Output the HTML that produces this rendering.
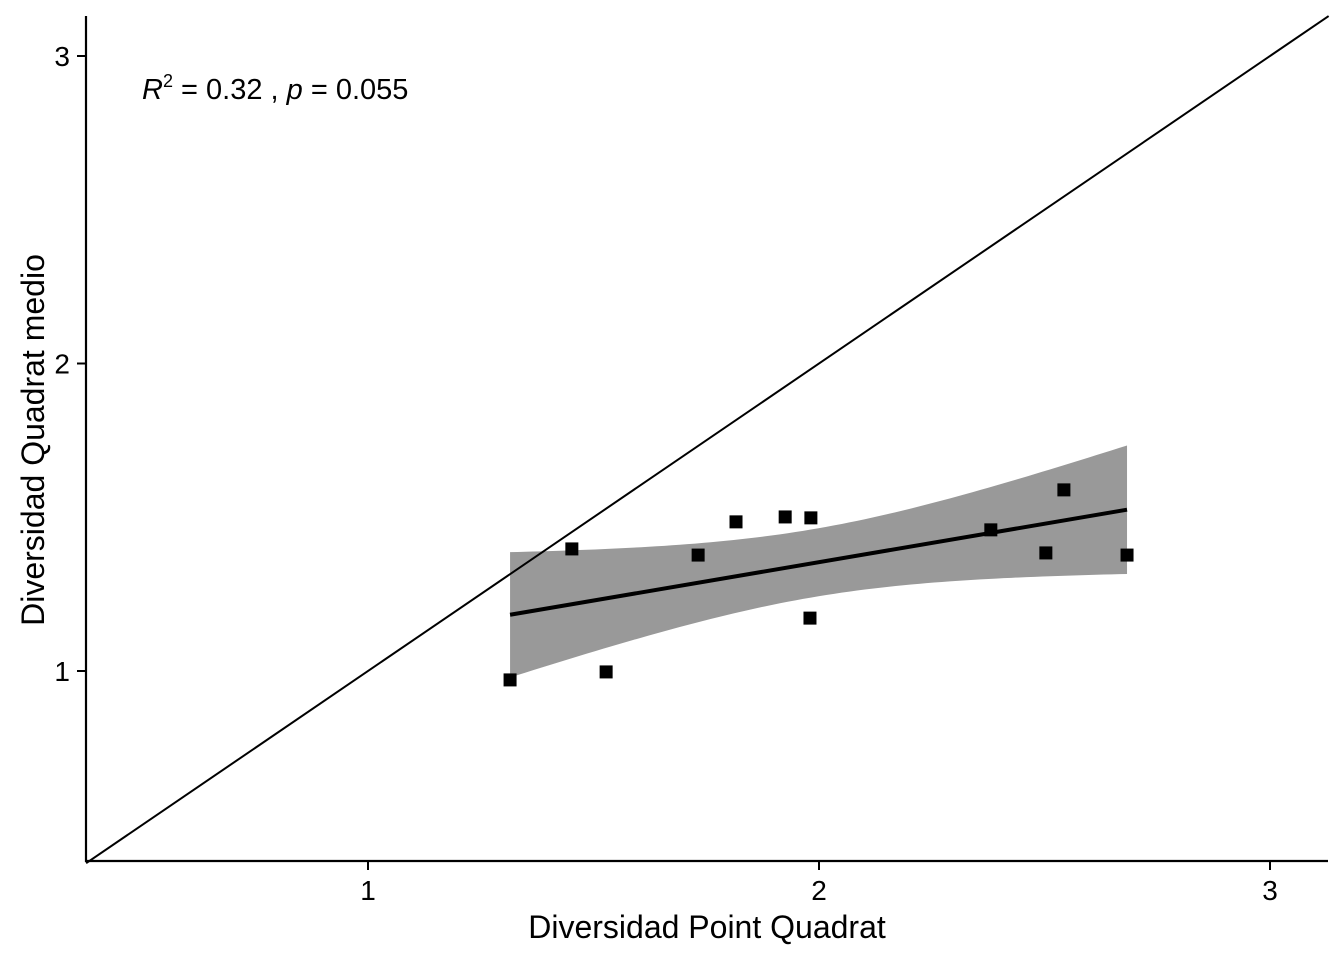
<!DOCTYPE html>
<html><head><meta charset="utf-8"><style>
body{margin:0;background:#fff}
svg text{font-family:"Liberation Sans",Arial,sans-serif;fill:#000}
</style></head><body>
<svg id="chart" width="1344" height="960" xmlns="http://www.w3.org/2000/svg">
<g id="band"></g>
<g id="marks"></g>
<line x1="86" y1="16" x2="86" y2="862" stroke="#000" stroke-width="2.2"/>
<line x1="85" y1="861" x2="1328" y2="861" stroke="#000" stroke-width="2.2"/>
<g id="ticks"></g>
<text x="142" y="99" font-size="29"><tspan font-style="italic">R</tspan><tspan font-size="18" dy="-12">2</tspan><tspan dy="12"> = 0.32 , </tspan><tspan font-style="italic">p</tspan><tspan> = 0.055</tspan></text>
<text x="707" y="938" font-size="32" text-anchor="middle">Diversidad Point Quadrat</text>
<text transform="translate(44,440) rotate(-90)" font-size="32" text-anchor="middle">Diversidad Quadrat medio</text>
</svg>
<script>
const xVals=[1.315,1.452,1.528,1.732,1.816,1.925,1.982,1.980,2.381,2.503,2.543,2.683];
const yVals=[0.971,1.397,0.997,1.377,1.485,1.501,1.498,1.172,1.459,1.384,1.589,1.377];
const xTicks=[1,2,3];
const yTicks=[1,2,3];
const X=v=>368+(v-1)*451;
const Y=v=>671-(v-1)*307.5;
const NS="http://www.w3.org/2000/svg";
function mk(t,a,p){const e=document.createElementNS(NS,t);for(const k in a)e.setAttribute(k,a[k]);p.appendChild(e);return e;}
const marks=document.getElementById('marks'),band=document.getElementById('band'),ticks=document.getElementById('ticks');
const x0=0.375,x1=3.13;
let idl=mk('line',{x1:X(x0),y1:Y(x0),x2:X(x1),y2:Y(x1),stroke:'#000','stroke-width':2},marks);


const n=xVals.length,mx=xVals.reduce((a,b)=>a+b)/n,my=yVals.reduce((a,b)=>a+b)/n;
let sxx=0,sxy=0;for(let i=0;i<n;i++){sxx+=(xVals[i]-mx)**2;sxy+=(xVals[i]-mx)*(yVals[i]-my);}
const b=sxy/sxx,a=my-b*mx;let sse=0;for(let i=0;i<n;i++)sse+=(yVals[i]-a-b*xVals[i])**2;
const s=Math.sqrt(sse/(n-2)),t=2.228;
const xmin=Math.min(...xVals),xmax=Math.max(...xVals);
let up=[],lo=[];
for(let k=0;k<=80;k++){const x=xmin+(xmax-xmin)*k/80,f=a+b*x,se=s*Math.sqrt(1/n+(x-mx)**2/sxx);
up.push(X(x)+','+Y(f+t*se));lo.unshift(X(x)+','+Y(f-t*se));}
let bp=mk('polygon',{points:up.concat(lo).join(' '),fill:'#999999'},band);


let fl=mk('line',{x1:X(xmin),y1:Y(a+b*xmin),x2:X(xmax),y2:Y(a+b*xmax),stroke:'#000','stroke-width':4},marks);


for(let i=0;i<n;i++){
 const r=mk('rect',{x:X(xVals[i])-6.5,y:Y(yVals[i])-6.5,width:13,height:13,fill:'#000'},marks);
 
 
}
xTicks.forEach(v=>{
 const l=mk('line',{x1:X(v),y1:861,x2:X(v),y2:870,stroke:'#000','stroke-width':2},ticks);
 
 
 const tx=mk('text',{x:X(v),y:900,'font-size':28,'text-anchor':'middle'},ticks);tx.textContent=v;
 
 
});
yTicks.forEach(v=>{
 const l=mk('line',{x1:77,y1:Y(v),x2:86,y2:Y(v),stroke:'#000','stroke-width':2},ticks);
 
 
 const tx=mk('text',{x:70,y:Y(v)+10,'font-size':28,'text-anchor':'end'},ticks);tx.textContent=v;
 
 
});
</script>
</body></html>
